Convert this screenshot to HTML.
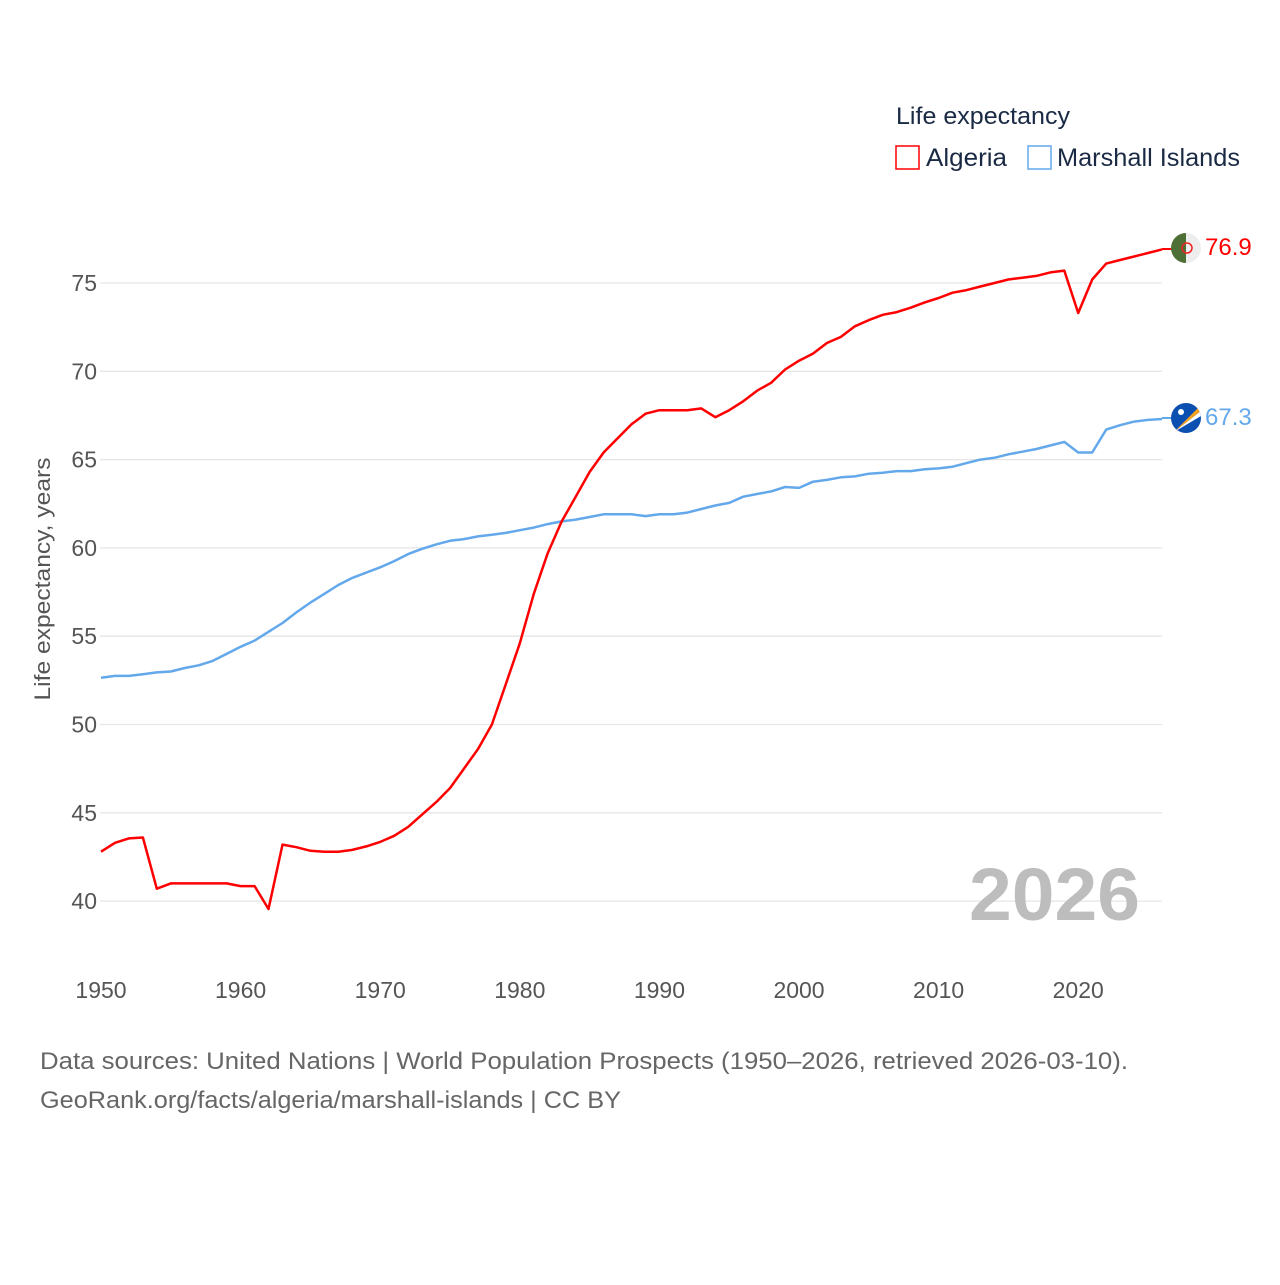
<!DOCTYPE html>
<html><head><meta charset="utf-8"><style>
body{margin:0;background:#fff;}
svg text{font-family:"Liberation Sans",sans-serif;}
</style></head><body>
<svg id="chart" width="1280" height="1280" viewBox="0 0 1280 1280" xmlns="http://www.w3.org/2000/svg">
<g id="grid"></g>
<g id="yticks"></g>
<g id="xticks"></g>
<text transform="translate(50,579) rotate(-90)" text-anchor="middle" font-size="22" fill="#555" textLength="243" lengthAdjust="spacingAndGlyphs">Life expectancy, years</text>
<text x="1140" y="920" text-anchor="end" font-size="74" font-weight="bold" fill="#bdbdbd" textLength="171" lengthAdjust="spacingAndGlyphs">2026</text>
<g id="series"></g>
<g>
<text x="896" y="124" font-size="24" fill="#1a2a44" textLength="174" lengthAdjust="spacingAndGlyphs">Life expectancy</text>
<g><rect x="896" y="146" width="23" height="23" fill="none" stroke="#ff0000" stroke-width="1.5"/><text x="926" y="166" font-size="25" fill="#1a2a44" textLength="81" lengthAdjust="spacingAndGlyphs">Algeria</text></g>
<g><rect x="1028" y="146" width="23" height="23" fill="none" stroke="#64a8ec" stroke-width="1.5"/><text x="1057" y="166" font-size="25" fill="#1a2a44" textLength="183" lengthAdjust="spacingAndGlyphs">Marshall Islands</text></g>
</g>
<line x1="1162" y1="249" x2="1172" y2="249" stroke="#ff0000" stroke-width="2"/>
<line x1="1162" y1="418" x2="1172" y2="418" stroke="#64a8ec" stroke-width="2"/>
<g>
<clipPath id="c1"><circle cx="1186" cy="248" r="15"/></clipPath>
<g clip-path="url(#c1)"><rect x="1171" y="233" width="15" height="30" fill="#4e6f36"/><rect x="1186" y="233" width="15" height="30" fill="#eee"/></g>
<circle cx="1187" cy="248" r="5" fill="none" stroke="#e22" stroke-width="1.5"/>
</g>
<g>
<clipPath id="c2"><circle cx="1186" cy="418" r="15"/></clipPath>
<g clip-path="url(#c2)"><rect x="1171" y="403" width="30" height="30" fill="#0b4fb0"/><polygon points="1174,432 1201,405 1201,411" fill="#f7a21b"/><polygon points="1174,432 1201,411 1201,416" fill="#fff"/></g>
<circle cx="1181" cy="412" r="3" fill="#fff"/>
</g>
<text x="1205" y="255" font-size="24" fill="#ff0000">76.9</text>
<text x="1205" y="425" font-size="24" fill="#64a8ec">67.3</text>
<text x="40" y="1069" font-size="24" fill="#666" textLength="1088" lengthAdjust="spacingAndGlyphs">Data sources: United Nations | World Population Prospects (1950–2026, retrieved 2026-03-10).</text>
<text x="40" y="1108" font-size="24" fill="#666" textLength="581" lengthAdjust="spacingAndGlyphs">GeoRank.org/facts/algeria/marshall-islands | CC BY</text>
</svg>
<script>
const startYear = 1950;
const yTicks = [40,45,50,55,60,65,70,75];
const xTicks = [1950,1960,1970,1980,1990,2000,2010,2020];
const algeria = [42.8,43.3,43.55,43.6,40.7,41.0,41.0,41.0,41.0,41.0,40.85,40.85,39.55,43.2,43.05,42.85,42.8,42.8,42.9,43.1,43.35,43.7,44.2,44.9,45.6,46.4,47.5,48.6,50.0,52.3,54.6,57.4,59.7,61.5,62.9,64.3,65.4,66.2,67.0,67.6,67.8,67.8,67.8,67.9,67.4,67.8,68.3,68.9,69.35,70.1,70.6,71.0,71.6,71.95,72.55,72.9,73.2,73.35,73.6,73.9,74.15,74.45,74.6,74.8,75.0,75.2,75.3,75.4,75.6,75.7,73.3,75.2,76.1,76.3,76.5,76.7,76.9];
const marshall = [52.65,52.75,52.75,52.85,52.95,53.0,53.2,53.35,53.6,54.0,54.4,54.75,55.25,55.75,56.35,56.9,57.4,57.9,58.3,58.6,58.9,59.25,59.65,59.95,60.2,60.4,60.5,60.65,60.75,60.85,61.0,61.15,61.35,61.5,61.6,61.75,61.9,61.9,61.9,61.8,61.9,61.9,62.0,62.2,62.4,62.55,62.9,63.05,63.2,63.45,63.4,63.75,63.85,64.0,64.05,64.2,64.25,64.35,64.35,64.45,64.5,64.6,64.8,65.0,65.1,65.3,65.45,65.6,65.8,66.0,65.4,65.4,66.7,66.95,67.15,67.25,67.3];
const NS='http://www.w3.org/2000/svg';
function xs(yr){return 101+(yr-1950)*(1061/76);}
function ys(v){return 283+(75-v)*17.66;}
const grid=document.getElementById('grid'), yt=document.getElementById('yticks'), xt=document.getElementById('xticks'), se=document.getElementById('series');
yTicks.forEach(v=>{
 const l=document.createElementNS(NS,'line');
 l.setAttribute('x1',100);l.setAttribute('x2',1162);l.setAttribute('y1',ys(v));l.setAttribute('y2',ys(v));
 l.setAttribute('stroke','#e6e6e6');l.setAttribute('stroke-width','1.3');
 
 
 grid.appendChild(l);
 const t=document.createElementNS(NS,'text');
 t.setAttribute('x',97);t.setAttribute('y',ys(v)+8);t.setAttribute('text-anchor','end');t.setAttribute('font-size','23');t.setAttribute('fill','#555');
 t.textContent=v;
 
 
 yt.appendChild(t);
});
xTicks.forEach(yr=>{
 const t=document.createElementNS(NS,'text');
 t.setAttribute('x',xs(yr));t.setAttribute('y',998);t.setAttribute('text-anchor','middle');t.setAttribute('font-size','23');t.setAttribute('fill','#555');
 t.textContent=yr;
 
 
 xt.appendChild(t);
});
function line(data,color,name){
 const p=document.createElementNS(NS,'path');
 p.setAttribute('d',data.map((v,i)=>(i?'L':'M')+xs(startYear+i).toFixed(1)+','+ys(v).toFixed(1)).join(''));
 p.setAttribute('fill','none');p.setAttribute('stroke',color);p.setAttribute('stroke-width','2.5');p.setAttribute('stroke-linejoin','round');
 
 
 se.appendChild(p);
}
line(marshall,'#64a8ec','marshall-islands-line');
line(algeria,'#ff0000','algeria-line');
</script>
</body></html>
